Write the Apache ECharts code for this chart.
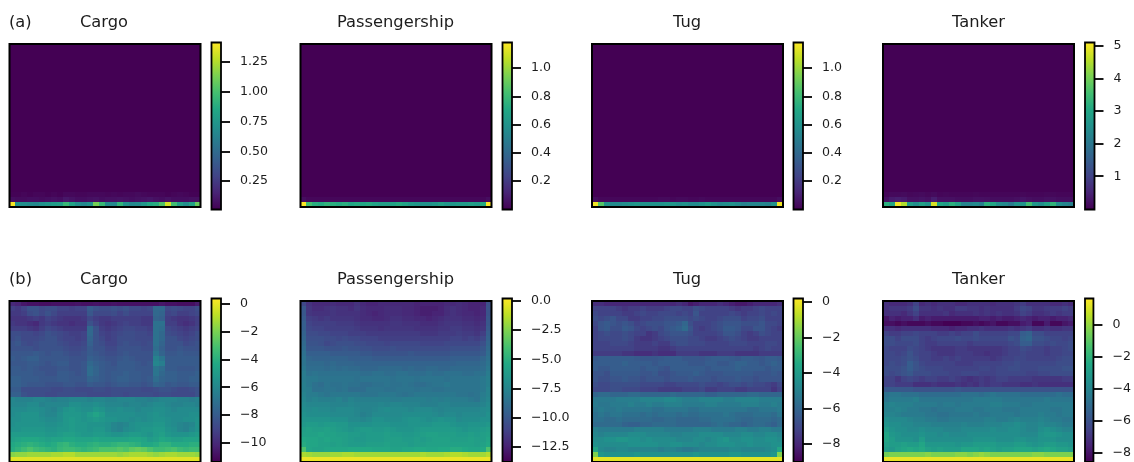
<!DOCTYPE html>
<html><head><meta charset="utf-8">
<style>html,body{margin:0;padding:0;background:#fff;overflow:hidden}#c{width:1134px;height:462px}</style>
<script src="https://cdn.jsdelivr.net/npm/echarts@6/dist/echarts.min.js"></script>
</head><body><div id="c"></div>
<script>
const shipTypes = ["Cargo","Passengership","Tug","Tanker"];
const rowTags = ["(a)","(b)"];

// (a) linear panels: nearly everything reads as the floor value; only the lowest rows carry signal
const floorA = [0.01,0.0,0.0,0.0];
const cargoA29 = [0.02,0.02,0.03,0.02,0.03,0.03,0.02,0.03,0.02,0.04,0.04,0.03,0.03,0.04,0.04,0.04,0.03,0.04,0.03,0.04,0.04,0.05,0.04,0.03,0.03,0.03,0.02,0.03,0.04,0.03,0.02,0.02];
const cargoA30 = [0.06,0.05,0.05,0.06,0.06,0.05,0.06,0.07,0.06,0.1,0.08,0.06,0.06,0.07,0.08,0.06,0.07,0.07,0.08,0.07,0.06,0.07,0.08,0.09,0.07,0.06,0.08,0.06,0.06,0.06,0.07,0.07];
const cargoA31 = [1.4,0.72,0.7,0.68,0.66,0.72,0.75,0.78,0.8,0.95,0.82,0.7,0.66,0.72,1.12,0.95,0.68,0.66,0.92,0.72,0.66,0.68,0.75,0.85,0.88,1.02,1.32,0.98,0.8,0.7,0.82,1.08];
const passA30 = [0.04,0.02,0.02,0.02,0.02,0.02,0.02,0.02,0.02,0.02,0.02,0.02,0.02,0.02,0.02,0.02,0.02,0.02,0.02,0.02,0.02,0.02,0.02,0.02,0.02,0.02,0.02,0.02,0.02,0.02,0.02,0.04];
const passA31 = [1.18,0.82,0.74,0.72,0.76,0.74,0.72,0.74,0.7,0.72,0.7,0.72,0.68,0.66,0.66,0.68,0.72,0.68,0.64,0.62,0.6,0.6,0.62,0.66,0.62,0.62,0.64,0.64,0.66,0.64,0.72,1.18];
const tugA30 = [0.04,0.02,0.02,0.02,0.02,0.02,0.02,0.02,0.02,0.02,0.02,0.03,0.03,0.02,0.03,0.03,0.02,0.02,0.03,0.02,0.02,0.02,0.02,0.02,0.02,0.02,0.02,0.02,0.02,0.02,0.02,0.04];
const tugA31 = [1.16,0.86,0.6,0.56,0.56,0.58,0.6,0.62,0.6,0.6,0.6,0.6,0.62,0.62,0.58,0.6,0.56,0.56,0.6,0.64,0.6,0.56,0.58,0.6,0.56,0.52,0.54,0.54,0.54,0.52,0.6,1.16];
const tankerA29 = [0.05,0.1,0.1,0.12,0.08,0.1,0.12,0.08,0.12,0.06,0.08,0.06,0.06,0.06,0.06,0.08,0.06,0.05,0.05,0.05,0.05,0.06,0.06,0.08,0.06,0.05,0.05,0.08,0.08,0.05,0.05,0.05];
const tankerA30 = [0.2,0.35,0.4,0.35,0.2,0.2,0.25,0.2,0.4,0.2,0.2,0.2,0.15,0.15,0.15,0.2,0.2,0.18,0.15,0.15,0.15,0.15,0.18,0.25,0.18,0.15,0.15,0.2,0.2,0.15,0.15,0.15];
const tankerA31 = [3.2,3.0,5.0,4.5,2.8,2.5,2.9,2.6,4.8,3.0,2.8,3.2,2.9,2.3,2.3,2.4,2.2,3.2,3.0,2.5,2.4,2.1,2.6,2.6,3.5,2.7,2.5,2.9,3.3,2.5,2.3,2.2];

// (b) log panels, values in tenths, one row per line, top row first
const cargoB = [
[-100,-102,-106,-108,-108,-109,-109,-108,-108,-108,-108,-107,-108,-108,-107,-108,-108,-107,-108,-108,-108,-108,-108,-108,-108,-106,-108,-108,-109,-109,-109,-105],
[-92,-94,-90,-84,-84,-88,-86,-86,-90,-90,-92,-90,-90,-80,-84,-86,-86,-84,-86,-84,-88,-88,-90,-88,-74,-74,-88,-86,-88,-90,-90,-86],
[-94,-94,-92,-86,-84,-88,-84,-88,-92,-92,-92,-92,-92,-82,-88,-88,-88,-86,-90,-86,-90,-90,-90,-90,-74,-76,-90,-88,-92,-92,-90,-88],
[-96,-96,-96,-94,-92,-94,-90,-92,-94,-96,-96,-96,-94,-88,-92,-94,-94,-92,-92,-92,-92,-92,-94,-94,-76,-78,-92,-94,-96,-96,-94,-92],
[-94,-96,-96,-98,-100,-94,-92,-94,-96,-96,-98,-96,-96,-84,-90,-94,-96,-94,-92,-90,-92,-92,-94,-94,-70,-70,-92,-92,-96,-98,-96,-92],
[-92,-92,-92,-94,-96,-92,-88,-90,-92,-94,-94,-94,-94,-74,-84,-92,-94,-92,-90,-88,-88,-90,-90,-92,-70,-72,-88,-90,-92,-94,-92,-90],
[-86,-86,-88,-88,-90,-88,-84,-86,-88,-90,-92,-92,-90,-74,-84,-90,-92,-90,-88,-86,-86,-88,-88,-90,-70,-74,-86,-88,-90,-92,-90,-86],
[-86,-84,-88,-88,-88,-86,-84,-84,-88,-90,-90,-92,-90,-76,-84,-88,-92,-90,-86,-86,-86,-88,-88,-88,-70,-74,-84,-84,-88,-90,-88,-86],
[-84,-82,-86,-88,-86,-84,-84,-84,-86,-88,-90,-90,-88,-78,-84,-86,-90,-90,-86,-84,-86,-86,-88,-86,-70,-76,-84,-84,-84,-88,-86,-84],
[-84,-84,-84,-84,-86,-84,-84,-84,-84,-86,-88,-88,-86,-80,-84,-84,-88,-88,-84,-84,-84,-84,-86,-86,-72,-78,-84,-84,-82,-84,-84,-84],
[-82,-82,-82,-82,-80,-82,-84,-82,-82,-84,-86,-86,-84,-80,-82,-84,-86,-86,-84,-82,-84,-84,-84,-84,-68,-76,-82,-82,-80,-82,-82,-82],
[-80,-82,-80,-78,-78,-82,-82,-82,-82,-82,-84,-84,-84,-78,-80,-82,-84,-84,-82,-80,-82,-84,-84,-84,-62,-68,-80,-80,-80,-80,-80,-80],
[-82,-82,-82,-80,-80,-82,-84,-82,-80,-80,-84,-84,-82,-74,-78,-80,-82,-84,-80,-80,-80,-82,-84,-82,-60,-64,-80,-80,-80,-80,-80,-80],
[-80,-80,-82,-80,-82,-84,-84,-84,-82,-82,-84,-84,-82,-72,-76,-80,-82,-82,-80,-80,-80,-82,-82,-82,-68,-72,-80,-80,-82,-82,-82,-80],
[-80,-80,-80,-80,-82,-82,-84,-84,-80,-80,-82,-84,-82,-72,-76,-80,-82,-80,-80,-78,-80,-80,-82,-82,-68,-74,-78,-78,-80,-80,-80,-78],
[-78,-78,-80,-80,-80,-82,-82,-82,-80,-80,-82,-82,-82,-76,-78,-80,-82,-80,-78,-78,-80,-80,-82,-80,-72,-76,-78,-78,-80,-80,-78,-78],
[-78,-78,-80,-82,-82,-82,-84,-84,-84,-82,-82,-84,-84,-80,-82,-82,-84,-82,-80,-80,-82,-82,-84,-82,-76,-78,-82,-80,-82,-82,-80,-80],
[-80,-80,-86,-86,-86,-86,-86,-88,-88,-86,-86,-88,-88,-88,-86,-86,-88,-86,-86,-86,-86,-86,-88,-88,-86,-84,-84,-86,-88,-88,-86,-84],
[-78,-78,-84,-86,-86,-86,-88,-88,-86,-86,-86,-86,-86,-88,-88,-88,-88,-86,-86,-88,-86,-86,-86,-86,-88,-86,-86,-88,-88,-88,-88,-84],
[-60,-62,-62,-62,-60,-60,-62,-64,-62,-62,-60,-60,-60,-62,-60,-60,-62,-62,-60,-60,-60,-62,-62,-64,-62,-60,-60,-60,-62,-62,-64,-62],
[-60,-60,-60,-58,-58,-62,-60,-60,-60,-60,-56,-56,-58,-58,-56,-58,-60,-60,-60,-62,-60,-60,-62,-60,-58,-58,-60,-62,-62,-60,-60,-62],
[-58,-58,-58,-56,-56,-58,-60,-62,-58,-54,-52,-54,-56,-56,-52,-54,-58,-58,-56,-58,-58,-60,-58,-58,-56,-56,-58,-60,-58,-58,-58,-58],
[-58,-56,-54,-54,-54,-58,-60,-60,-56,-52,-52,-52,-54,-50,-46,-50,-56,-56,-56,-56,-56,-58,-58,-56,-54,-56,-58,-58,-58,-58,-56,-56],
[-56,-56,-54,-54,-54,-56,-58,-58,-56,-52,-50,-52,-54,-52,-50,-52,-54,-54,-56,-56,-58,-56,-58,-56,-54,-54,-56,-58,-58,-56,-56,-54],
[-56,-54,-54,-54,-54,-54,-56,-56,-54,-52,-50,-52,-52,-54,-54,-54,-56,-60,-62,-60,-56,-54,-54,-54,-52,-52,-56,-58,-60,-62,-60,-54],
[-54,-54,-52,-52,-52,-52,-54,-54,-52,-52,-50,-52,-52,-54,-52,-52,-56,-60,-62,-58,-56,-54,-52,-52,-50,-50,-54,-56,-60,-62,-58,-54],
[-50,-50,-50,-50,-50,-50,-52,-52,-50,-48,-48,-50,-52,-52,-50,-50,-52,-54,-54,-52,-50,-50,-52,-54,-50,-48,-52,-54,-54,-54,-52,-50],
[-48,-46,-44,-44,-44,-46,-48,-46,-46,-44,-44,-46,-46,-46,-44,-46,-46,-46,-46,-46,-44,-44,-46,-50,-48,-44,-46,-48,-48,-46,-46,-46],
[-44,-42,-40,-38,-40,-42,-44,-42,-38,-36,-40,-42,-42,-40,-38,-40,-40,-38,-36,-36,-38,-40,-44,-44,-42,-38,-38,-42,-42,-42,-40,-40],
[-42,-38,-34,-30,-34,-36,-38,-40,-36,-34,-34,-36,-38,-36,-34,-30,-30,-30,-28,-30,-26,-24,-26,-30,-34,-34,-32,-30,-34,-36,-34,-34],
[-18,-16,-16,-14,-14,-14,-14,-12,-12,-10,-10,-14,-14,-14,-14,-14,-14,-14,-16,-14,-12,-12,-12,-14,-16,-14,-12,-12,-14,-14,-14,-16],
[-2,-2,-2,-2,-2,-2,-2,-2,-2,-2,-2,-2,-2,-2,-2,-2,-2,-2,-2,-2,-2,-2,-2,-2,-2,-2,-2,-2,-2,-2,-2,-2]
];
const passB = [
[-108,-118,-122,-122,-122,-120,-122,-122,-122,-118,-122,-124,-124,-122,-122,-122,-122,-122,-122,-124,-124,-124,-124,-124,-122,-122,-120,-122,-124,-124,-124,-104],
[-100,-116,-120,-120,-118,-116,-118,-118,-120,-116,-120,-122,-122,-122,-120,-120,-120,-122,-122,-124,-126,-126,-126,-124,-120,-118,-120,-122,-124,-124,-122,-102],
[-100,-116,-118,-118,-118,-116,-118,-118,-118,-118,-120,-122,-124,-122,-120,-120,-120,-122,-122,-124,-126,-126,-124,-124,-120,-118,-120,-122,-122,-124,-122,-102],
[-98,-112,-114,-116,-114,-116,-116,-116,-116,-118,-120,-120,-122,-122,-120,-118,-118,-120,-120,-122,-122,-124,-122,-120,-118,-118,-118,-120,-120,-122,-120,-100],
[-96,-110,-112,-112,-112,-112,-114,-114,-114,-116,-118,-118,-118,-118,-118,-116,-116,-118,-118,-118,-120,-120,-120,-118,-116,-116,-116,-118,-118,-120,-118,-100],
[-96,-108,-110,-110,-112,-112,-112,-112,-112,-114,-116,-116,-116,-118,-116,-116,-116,-116,-116,-118,-118,-118,-118,-116,-116,-114,-114,-116,-116,-118,-116,-98],
[-94,-106,-106,-108,-108,-110,-110,-110,-112,-112,-112,-114,-114,-114,-114,-114,-114,-114,-114,-114,-116,-116,-116,-114,-114,-114,-112,-114,-114,-116,-112,-96],
[-92,-104,-104,-104,-106,-106,-108,-106,-108,-108,-110,-110,-110,-112,-112,-112,-112,-112,-112,-112,-112,-112,-112,-112,-112,-110,-110,-112,-110,-112,-108,-94],
[-90,-102,-102,-104,-108,-106,-104,-104,-104,-106,-106,-108,-108,-108,-110,-108,-108,-108,-108,-108,-110,-110,-110,-110,-108,-108,-108,-108,-108,-108,-104,-92],
[-88,-100,-100,-100,-102,-102,-102,-100,-102,-102,-104,-104,-106,-106,-106,-104,-106,-106,-106,-106,-106,-106,-106,-106,-106,-104,-104,-104,-104,-104,-100,-90],
[-86,-96,-96,-96,-96,-98,-98,-98,-98,-98,-100,-100,-102,-102,-102,-102,-102,-102,-100,-102,-102,-102,-102,-102,-102,-100,-100,-100,-100,-100,-98,-88],
[-84,-92,-94,-94,-94,-94,-94,-94,-96,-96,-96,-96,-98,-98,-98,-98,-98,-98,-98,-98,-98,-98,-98,-98,-98,-96,-96,-96,-96,-96,-92,-86],
[-84,-90,-90,-90,-92,-90,-92,-92,-92,-94,-94,-94,-94,-94,-94,-94,-94,-94,-94,-94,-94,-94,-94,-94,-94,-94,-92,-92,-92,-92,-90,-84],
[-82,-88,-88,-88,-90,-88,-90,-88,-90,-90,-92,-92,-92,-90,-90,-90,-90,-92,-90,-92,-92,-90,-90,-92,-92,-90,-90,-90,-90,-90,-88,-82],
[-80,-86,-84,-86,-86,-86,-86,-86,-86,-86,-88,-88,-86,-86,-88,-88,-86,-86,-88,-88,-88,-86,-88,-88,-86,-86,-86,-88,-88,-86,-86,-80],
[-80,-82,-82,-84,-84,-84,-84,-84,-84,-86,-84,-84,-84,-84,-84,-86,-84,-84,-84,-86,-84,-84,-84,-84,-86,-84,-84,-84,-84,-84,-82,-78],
[-78,-82,-86,-88,-84,-86,-86,-84,-86,-86,-88,-88,-86,-86,-84,-86,-86,-84,-86,-88,-88,-86,-84,-84,-82,-84,-84,-84,-84,-84,-82,-78],
[-78,-80,-86,-86,-84,-84,-86,-84,-88,-88,-88,-84,-84,-84,-86,-86,-84,-84,-84,-86,-84,-84,-86,-86,-84,-84,-84,-84,-84,-84,-82,-76],
[-76,-80,-80,-82,-84,-82,-82,-82,-82,-82,-84,-84,-84,-82,-82,-82,-84,-86,-84,-82,-82,-82,-82,-82,-82,-82,-84,-84,-86,-84,-80,-76],
[-74,-78,-76,-78,-78,-78,-76,-80,-76,-78,-78,-78,-78,-78,-78,-80,-80,-78,-78,-78,-78,-80,-78,-80,-78,-80,-80,-80,-82,-84,-78,-74],
[-72,-74,-74,-74,-74,-76,-76,-76,-74,-76,-76,-76,-76,-74,-76,-74,-74,-76,-76,-76,-78,-78,-78,-76,-76,-78,-78,-78,-78,-78,-76,-72],
[-70,-72,-70,-72,-72,-74,-72,-72,-72,-74,-76,-76,-74,-72,-70,-72,-72,-72,-74,-72,-72,-72,-74,-76,-74,-74,-74,-74,-74,-74,-72,-70],
[-68,-70,-70,-70,-70,-72,-72,-72,-72,-74,-78,-76,-72,-72,-72,-72,-72,-70,-70,-70,-70,-70,-72,-74,-72,-72,-74,-72,-72,-72,-72,-68],
[-66,-66,-66,-66,-66,-68,-68,-68,-72,-72,-74,-72,-68,-68,-70,-70,-70,-68,-66,-66,-68,-70,-68,-66,-68,-68,-72,-70,-70,-70,-68,-68],
[-64,-62,-62,-64,-62,-62,-64,-64,-68,-68,-68,-68,-66,-66,-66,-68,-68,-68,-66,-66,-66,-66,-64,-64,-64,-66,-68,-68,-66,-66,-66,-64],
[-60,-58,-60,-60,-58,-60,-62,-64,-66,-64,-62,-62,-64,-64,-62,-64,-66,-66,-66,-64,-62,-62,-62,-62,-62,-62,-64,-66,-64,-64,-62,-60],
[-58,-58,-58,-56,-58,-58,-60,-60,-62,-62,-64,-62,-62,-62,-60,-62,-62,-64,-64,-62,-60,-58,-58,-60,-60,-60,-62,-62,-60,-62,-60,-58],
[-54,-56,-56,-58,-56,-58,-58,-60,-62,-64,-64,-62,-62,-62,-60,-60,-60,-62,-62,-60,-62,-60,-58,-58,-58,-60,-60,-60,-58,-60,-60,-56],
[-52,-56,-56,-58,-58,-60,-58,-60,-62,-62,-62,-60,-60,-60,-58,-60,-60,-60,-62,-60,-60,-58,-58,-58,-58,-58,-58,-58,-58,-60,-58,-54],
[-38,-56,-58,-58,-56,-56,-56,-56,-54,-54,-54,-54,-56,-56,-56,-58,-58,-56,-56,-54,-54,-56,-56,-54,-54,-52,-52,-54,-56,-56,-54,-38],
[-16,-18,-20,-20,-20,-18,-18,-16,-16,-18,-18,-18,-18,-18,-18,-18,-18,-18,-18,-18,-16,-18,-18,-18,-16,-14,-14,-16,-18,-18,-18,-14],
[-2,-2,-2,-2,-2,-2,-2,-2,-2,-2,-2,-2,-2,-2,-2,-2,-2,-2,-2,-2,-2,-2,-2,-2,-2,-2,-2,-2,-2,-2,-2,-2]
];
const tugB = [
[-78,-78,-80,-80,-80,-80,-80,-80,-80,-80,-80,-80,-80,-80,-78,-80,-84,-82,-80,-80,-80,-78,-80,-82,-84,-84,-82,-80,-80,-80,-80,-78],
[-72,-72,-72,-72,-74,-76,-74,-74,-72,-74,-74,-74,-72,-70,-70,-72,-72,-68,-70,-72,-72,-72,-72,-74,-76,-74,-74,-72,-70,-72,-72,-72],
[-70,-72,-72,-72,-72,-74,-74,-72,-70,-72,-72,-70,-70,-70,-72,-70,-72,-66,-72,-72,-72,-72,-72,-70,-72,-74,-72,-72,-70,-72,-70,-72],
[-68,-70,-68,-66,-70,-70,-74,-74,-72,-72,-70,-70,-68,-68,-68,-68,-70,-68,-70,-72,-72,-70,-68,-68,-68,-72,-70,-70,-68,-72,-72,-72],
[-70,-66,-64,-66,-68,-66,-68,-72,-70,-68,-68,-68,-66,-66,-64,-60,-68,-72,-72,-72,-70,-68,-66,-66,-66,-68,-68,-68,-66,-70,-70,-72],
[-72,-66,-64,-68,-68,-64,-66,-70,-72,-70,-68,-70,-66,-64,-62,-58,-66,-72,-74,-72,-70,-68,-64,-64,-66,-70,-70,-66,-66,-70,-72,-74],
[-72,-70,-68,-70,-70,-68,-70,-72,-72,-76,-74,-70,-68,-66,-66,-66,-68,-72,-72,-72,-72,-70,-66,-66,-68,-72,-74,-72,-68,-70,-72,-72],
[-72,-70,-70,-70,-70,-68,-70,-74,-76,-76,-74,-72,-70,-68,-68,-68,-70,-70,-72,-74,-74,-72,-70,-68,-70,-72,-74,-74,-72,-72,-72,-72],
[-72,-72,-72,-70,-70,-70,-72,-74,-74,-74,-72,-74,-74,-70,-68,-68,-70,-70,-70,-72,-72,-72,-72,-70,-70,-70,-72,-72,-72,-70,-70,-72],
[-72,-72,-72,-72,-72,-72,-72,-74,-74,-74,-74,-76,-76,-74,-72,-72,-72,-72,-72,-72,-72,-72,-72,-72,-72,-72,-72,-74,-72,-70,-72,-72],
[-74,-74,-74,-74,-74,-76,-76,-78,-78,-78,-76,-78,-78,-78,-74,-74,-74,-74,-76,-76,-76,-74,-74,-74,-76,-76,-76,-76,-74,-74,-74,-74],
[-64,-63,-63,-63,-63,-63,-63,-64,-65,-65,-65,-64,-63,-63,-63,-65,-65,-65,-66,-64,-63,-63,-63,-64,-65,-63,-63,-64,-65,-63,-63,-64],
[-63,-63,-63,-63,-63,-61,-63,-63,-63,-63,-65,-63,-63,-63,-63,-63,-65,-65,-65,-63,-63,-65,-65,-63,-61,-61,-63,-63,-65,-63,-61,-63],
[-63,-65,-65,-63,-63,-63,-63,-63,-65,-63,-63,-65,-67,-63,-63,-63,-63,-63,-63,-65,-63,-63,-63,-63,-61,-63,-63,-63,-63,-65,-63,-63],
[-66,-66,-68,-64,-64,-64,-64,-64,-66,-66,-64,-68,-68,-66,-64,-64,-64,-62,-64,-66,-66,-66,-64,-64,-64,-64,-64,-66,-66,-66,-64,-66],
[-66,-68,-68,-66,-66,-64,-66,-66,-68,-66,-66,-66,-68,-66,-66,-66,-64,-66,-66,-66,-68,-66,-66,-66,-64,-66,-66,-68,-66,-66,-66,-66],
[-68,-70,-70,-68,-68,-68,-68,-68,-70,-70,-70,-70,-72,-72,-70,-70,-70,-70,-68,-70,-70,-72,-70,-68,-68,-70,-68,-70,-70,-72,-74,-70],
[-70,-70,-70,-68,-68,-70,-70,-70,-72,-72,-72,-74,-74,-74,-74,-72,-72,-72,-70,-74,-74,-72,-72,-72,-74,-74,-72,-72,-72,-72,-76,-72],
[-60,-58,-58,-60,-60,-60,-58,-58,-60,-60,-60,-60,-60,-58,-60,-60,-60,-60,-60,-62,-62,-60,-60,-60,-60,-60,-58,-58,-60,-60,-60,-60],
[-53,-53,-53,-53,-51,-51,-51,-51,-49,-49,-49,-49,-47,-47,-49,-51,-51,-51,-49,-49,-49,-49,-51,-51,-49,-49,-49,-49,-51,-51,-51,-51],
[-52,-54,-54,-52,-52,-52,-50,-52,-52,-50,-52,-52,-50,-50,-50,-52,-52,-52,-52,-50,-50,-52,-52,-52,-52,-50,-50,-50,-52,-52,-50,-52],
[-54,-52,-54,-54,-52,-54,-54,-54,-54,-54,-56,-56,-54,-54,-54,-54,-56,-56,-54,-54,-54,-54,-54,-54,-54,-54,-56,-56,-54,-54,-54,-52],
[-56,-54,-56,-54,-54,-56,-56,-56,-58,-56,-58,-56,-56,-56,-58,-56,-58,-58,-56,-56,-56,-56,-54,-56,-58,-58,-58,-56,-56,-56,-58,-54],
[-56,-56,-58,-58,-56,-58,-58,-58,-58,-58,-60,-60,-58,-58,-60,-60,-60,-60,-58,-58,-56,-56,-56,-56,-58,-60,-60,-58,-58,-58,-60,-58],
[-58,-58,-58,-58,-58,-61,-62,-62,-60,-60,-58,-58,-58,-58,-60,-60,-60,-60,-60,-60,-58,-56,-58,-60,-60,-62,-60,-58,-58,-60,-62,-58],
[-50,-52,-52,-52,-52,-52,-52,-50,-50,-50,-50,-50,-52,-52,-52,-52,-52,-50,-50,-50,-52,-52,-52,-52,-50,-50,-52,-52,-50,-50,-52,-52],
[-48,-50,-48,-48,-48,-48,-46,-46,-46,-48,-48,-48,-48,-50,-50,-48,-48,-48,-46,-46,-46,-46,-48,-48,-48,-46,-46,-48,-48,-46,-46,-48],
[-46,-46,-44,-44,-42,-42,-44,-44,-46,-44,-46,-46,-46,-46,-48,-48,-48,-46,-46,-48,-46,-44,-42,-46,-46,-44,-44,-46,-46,-44,-44,-46],
[-44,-46,-46,-46,-46,-46,-44,-44,-44,-44,-44,-46,-46,-44,-44,-46,-46,-46,-48,-46,-46,-44,-44,-44,-46,-46,-44,-46,-46,-46,-44,-44],
[-36,-47,-49,-49,-47,-47,-49,-49,-49,-49,-49,-51,-49,-49,-51,-53,-53,-51,-49,-49,-49,-49,-49,-47,-47,-49,-49,-49,-49,-47,-45,-36],
[-16,-42,-44,-44,-44,-44,-44,-42,-44,-44,-44,-44,-44,-44,-44,-44,-44,-42,-44,-44,-44,-44,-44,-42,-42,-44,-44,-44,-44,-44,-42,-16],
[-2,-2,-2,-2,-2,-2,-2,-2,-2,-2,-2,-2,-2,-2,-2,-2,-2,-2,-2,-2,-2,-2,-2,-2,-2,-2,-2,-2,-2,-2,-2,-2]
];
const tankerB = [
[-72,-74,-74,-74,-72,-66,-74,-72,-74,-72,-72,-72,-74,-74,-72,-72,-72,-72,-74,-72,-72,-72,-70,-68,-72,-72,-72,-72,-74,-74,-72,-74],
[-72,-70,-70,-70,-68,-62,-70,-70,-72,-70,-72,-72,-68,-68,-70,-70,-72,-70,-72,-72,-72,-72,-68,-64,-66,-70,-70,-68,-68,-68,-66,-68],
[-72,-72,-72,-74,-70,-66,-72,-72,-72,-72,-70,-74,-72,-72,-72,-70,-72,-70,-72,-70,-72,-72,-70,-66,-68,-72,-72,-70,-68,-70,-68,-68],
[-80,-76,-78,-76,-76,-72,-78,-76,-78,-78,-78,-78,-78,-78,-78,-78,-76,-76,-78,-76,-78,-78,-76,-74,-76,-78,-76,-76,-78,-76,-76,-74],
[-82,-82,-84,-82,-84,-84,-84,-82,-84,-84,-86,-86,-86,-84,-84,-82,-84,-82,-80,-84,-84,-82,-82,-78,-76,-84,-84,-78,-84,-84,-80,-78],
[-72,-72,-74,-72,-72,-72,-72,-72,-74,-74,-74,-76,-74,-74,-72,-72,-70,-72,-72,-72,-72,-70,-72,-70,-68,-72,-72,-70,-72,-72,-70,-70],
[-66,-68,-68,-66,-66,-64,-66,-66,-66,-68,-68,-66,-68,-66,-66,-62,-66,-66,-66,-66,-66,-64,-64,-56,-54,-62,-62,-66,-66,-66,-66,-66],
[-62,-62,-66,-62,-62,-62,-66,-68,-66,-64,-64,-64,-62,-64,-64,-62,-64,-64,-64,-64,-64,-60,-62,-54,-52,-60,-60,-62,-64,-64,-66,-64],
[-62,-62,-64,-64,-64,-62,-66,-68,-68,-66,-66,-66,-66,-66,-68,-66,-66,-66,-66,-66,-66,-64,-62,-56,-56,-62,-62,-64,-62,-64,-64,-62],
[-64,-66,-66,-66,-62,-64,-66,-68,-70,-70,-70,-70,-68,-68,-70,-70,-70,-70,-70,-70,-68,-66,-66,-62,-64,-66,-66,-68,-66,-66,-64,-62],
[-64,-64,-66,-64,-60,-64,-66,-66,-68,-70,-70,-70,-68,-68,-68,-70,-70,-72,-70,-70,-68,-66,-66,-64,-66,-66,-66,-68,-66,-66,-64,-64],
[-64,-64,-64,-62,-60,-62,-66,-66,-68,-68,-66,-68,-66,-68,-68,-68,-68,-68,-70,-68,-66,-66,-64,-64,-66,-66,-66,-66,-66,-64,-62,-62],
[-64,-62,-64,-62,-56,-60,-64,-66,-66,-66,-66,-66,-68,-68,-68,-66,-66,-66,-66,-66,-64,-64,-62,-64,-64,-64,-64,-64,-64,-62,-62,-62],
[-62,-62,-62,-60,-56,-60,-62,-64,-64,-64,-66,-66,-66,-66,-66,-66,-64,-64,-66,-64,-64,-62,-62,-64,-64,-64,-62,-62,-62,-62,-60,-60],
[-62,-64,-62,-60,-58,-62,-62,-62,-64,-64,-64,-66,-66,-64,-64,-64,-66,-66,-66,-64,-64,-64,-64,-64,-66,-66,-64,-64,-62,-62,-62,-62],
[-66,-66,-70,-66,-64,-66,-68,-66,-66,-68,-68,-66,-68,-70,-72,-70,-68,-70,-68,-66,-66,-68,-68,-68,-68,-70,-70,-70,-70,-70,-68,-68],
[-66,-66,-68,-68,-68,-72,-72,-72,-70,-72,-72,-72,-70,-72,-70,-72,-68,-70,-68,-68,-70,-70,-70,-72,-72,-70,-72,-72,-72,-72,-72,-72],
[-58,-58,-58,-58,-58,-60,-60,-60,-60,-60,-60,-60,-58,-60,-60,-60,-60,-60,-60,-60,-60,-60,-60,-60,-60,-60,-60,-60,-60,-60,-60,-60],
[-48,-46,-46,-48,-48,-48,-50,-50,-50,-50,-50,-50,-50,-48,-48,-48,-50,-48,-46,-48,-48,-48,-48,-50,-50,-50,-50,-50,-50,-48,-50,-50],
[-46,-44,-44,-44,-44,-42,-46,-46,-46,-46,-46,-46,-46,-46,-46,-44,-44,-44,-44,-44,-46,-46,-46,-46,-46,-46,-46,-44,-46,-46,-46,-46],
[-42,-40,-42,-42,-42,-44,-44,-44,-44,-46,-44,-44,-46,-44,-44,-44,-44,-44,-42,-42,-44,-44,-44,-46,-46,-44,-44,-44,-44,-44,-44,-44],
[-42,-42,-40,-42,-44,-44,-46,-46,-48,-46,-46,-46,-44,-44,-44,-46,-46,-44,-44,-44,-46,-46,-46,-44,-44,-44,-44,-44,-46,-46,-44,-44],
[-40,-40,-42,-44,-44,-44,-44,-46,-46,-48,-48,-46,-46,-46,-46,-44,-46,-46,-44,-44,-44,-44,-46,-44,-44,-44,-42,-44,-44,-46,-44,-44],
[-36,-38,-38,-38,-40,-42,-42,-44,-44,-46,-46,-44,-44,-44,-44,-44,-44,-42,-42,-44,-44,-42,-40,-42,-42,-42,-40,-42,-44,-44,-46,-46],
[-34,-36,-36,-38,-38,-40,-40,-40,-42,-42,-42,-42,-42,-40,-42,-42,-42,-40,-40,-40,-38,-38,-36,-38,-40,-40,-38,-40,-40,-42,-44,-44],
[-30,-34,-36,-36,-38,-38,-36,-38,-38,-38,-40,-40,-40,-38,-38,-38,-38,-38,-36,-38,-38,-36,-36,-38,-40,-40,-36,-34,-36,-38,-40,-40],
[-26,-32,-34,-36,-36,-36,-34,-36,-36,-38,-36,-38,-38,-38,-36,-36,-36,-36,-36,-36,-36,-36,-36,-38,-38,-38,-34,-32,-32,-34,-36,-36],
[-26,-30,-34,-34,-34,-36,-30,-36,-36,-36,-36,-36,-36,-36,-36,-34,-34,-34,-34,-36,-36,-36,-34,-34,-36,-36,-34,-34,-34,-36,-36,-36],
[-28,-30,-30,-28,-30,-30,-26,-32,-32,-32,-32,-32,-34,-32,-32,-30,-30,-30,-30,-32,-32,-32,-30,-30,-32,-34,-32,-30,-30,-32,-32,-34],
[-30,-32,-28,-26,-24,-26,-24,-28,-30,-28,-30,-30,-30,-26,-26,-26,-28,-26,-28,-30,-28,-28,-26,-26,-26,-28,-26,-24,-26,-28,-28,-30],
[-6,-4,-4,-4,-4,-4,-4,-2,-4,-4,-4,-4,-2,-2,-4,-2,0,-2,-4,-4,-4,-4,-4,-4,-4,-2,-2,-4,-4,-4,-4,-4],
[13,13,13,13,13,13,13,13,13,13,13,13,13,13,13,13,13,13,13,13,13,13,13,13,13,13,13,13,13,13,13,13]
];

// colour-bar ranges and ticks
const cbMin = [0.01,0.0,0.0,-0.02, -11.35,-13.8,-9.0,-8.6];
const cbMax = [1.415,1.18,1.18,5.1, 0.35,0.2,0.19,1.63];
const cbTicks = [
 [0.25,0.5,0.75,1,1.25],[0.2,0.4,0.6,0.8,1],[0.2,0.4,0.6,0.8,1],[1,2,3,4,5],
 [-10,-8,-6,-4,-2,0],[-12.5,-10,-7.5,-5,-2.5,0],[-8,-6,-4,-2,0],[-8,-6,-4,-2,0]];
const cbTickLabels = [
 ["0.25","0.50","0.75","1.00","1.25"],["0.2","0.4","0.6","0.8","1.0"],["0.2","0.4","0.6","0.8","1.0"],["1","2","3","4","5"],
 ["−10","−8","−6","−4","−2","0"],["−12.5","−10.0","−7.5","−5.0","−2.5","0.0"],["−8","−6","−4","−2","0"],["−8","−6","−4","−2","0"]];

const viridis = ["#440154","#482475","#414487","#355f8d","#2a788e","#21918c","#22a884","#44bf70","#7ad151","#bddf26","#fde725"];

// layout
const panelLeft = [9.5,300.5,592,883];
const panelW = 191, panelH = 163;
const rowTop = [44,301];
const barLeft = [211.5,502.5,793.5,1085];
const barW = 9.5, barH = 167;
const barTop = [42.5,298.5];

function rowsA(i){
  const empty = () => new Array(32).fill(floorA[i]);
  const rows = [];
  for(let r=0;r<32;r++) rows.push(empty());
  if(i===0){rows[29]=cargoA29;rows[30]=cargoA30;rows[31]=cargoA31;}
  if(i===1){rows[30]=passA30;rows[31]=passA31;}
  if(i===2){rows[30]=tugA30;rows[31]=tugA31;}
  if(i===3){rows[29]=tankerA29;rows[30]=tankerA30;rows[31]=tankerA31;}
  return rows;
}
const panelsB = [cargoB,passB,tugB,tankerB].map(m=>m.map(r=>r.map(v=>v/10)));
const matrices = [0,1,2,3].map(rowsA).concat(panelsB);
const idx32 = Array.from({length:32},(_,i)=>i);

const option = {animation:false,backgroundColor:"#fff",title:[],grid:[],xAxis:[],yAxis:[],visualMap:[],series:[]};
const textColor = "#1c1c1c";
const font = "DejaVu Sans";
const titleSize = 16.3;
const titleTop = [15,271.5];
rowTags.forEach((t,row)=>{
  option.title.push({text:t,left:9,top:titleTop[row],padding:0,textStyle:{fontFamily:font,fontSize:titleSize,fontWeight:"normal",color:textColor}});
});
const titleCentres = [104,395.5,687,978.5];
for(let p=0;p<8;p++){
  const col=p%4,row=p<4?0:1;
  option.title.push({text:shipTypes[col],left:titleCentres[col],top:titleTop[row],padding:0,textAlign:"center",textStyle:{fontFamily:font,fontSize:titleSize,fontWeight:"normal",color:textColor}});
  // cell matrix, each cell snapped to whole pixels so neighbours share an edge
  option.grid.push({left:panelLeft[col],top:rowTop[row],width:panelW,height:panelH,show:true,z:5,borderColor:"#000",borderWidth:2,backgroundColor:"transparent"});
  const g=option.grid.length-1;
  option.xAxis.push({type:"category",gridIndex:g,data:idx32,show:false});
  option.yAxis.push({type:"category",gridIndex:g,data:idx32,inverse:true,show:false});
  const data=[];
  matrices[p].forEach((r,y)=>r.forEach((v,x)=>data.push([x,y,v])));
  const si=option.series.length;
  option.series.push({type:"custom",xAxisIndex:g,yAxisIndex:g,data:data,silent:true,clip:true,progressive:0,encode:{x:0,y:1},
    renderItem:(params,api)=>{
      const c=api.coord([api.value(0),api.value(1)]),s=api.size([1,1]);
      const x0=Math.round(c[0]-s[0]/2),x1=Math.round(c[0]+s[0]/2),y0=Math.round(c[1]-s[1]/2),y1=Math.round(c[1]+s[1]/2);
      return {type:"rect",shape:{x:x0,y:y0,width:x1-x0,height:y1-y0},style:{fill:api.visual("color")}};
    }});
  option.visualMap.push({show:false,type:"continuous",seriesIndex:si,dimension:2,min:cbMin[p],max:cbMax[p],inRange:{color:viridis}});
  // colour bar
  option.grid.push({left:barLeft[col],top:barTop[row],width:barW,height:barH,show:true,z:5,borderColor:"#000",borderWidth:1.8,backgroundColor:"transparent"});
  const b=option.grid.length-1;
  const ticks=cbTicks[p],labels=cbTickLabels[p];
  option.xAxis.push({type:"value",gridIndex:b,min:0,max:1,show:false});
  option.yAxis.push({type:"value",gridIndex:b,position:"right",min:cbMin[p],max:cbMax[p],z:6,
    splitLine:{show:false},axisLine:{show:false,onZero:false},
    axisTick:{show:true,length:9,inside:false,lineStyle:{color:"#000",width:1.8},customValues:ticks},
    axisLabel:{show:true,margin:19,hideOverlap:false,showMinLabel:true,showMaxLabel:true,fontFamily:font,fontSize:12.6,color:textColor,customValues:ticks,
      formatter:v=>{const k=ticks.findIndex(t=>Math.abs(t-v)<1e-6);return k<0?"":labels[k];}}});
  option.series.push({type:"custom",xAxisIndex:b,yAxisIndex:b,silent:true,clip:false,data:[[0,cbMin[p],1,cbMax[p]]],
    renderItem:(params,api)=>{
      const a=api.coord([api.value(0),api.value(3)]),c=api.coord([api.value(2),api.value(1)]);
      return {type:"rect",shape:{x:a[0],y:a[1],width:c[0]-a[0],height:c[1]-a[1]},
        style:{fill:new echarts.graphic.LinearGradient(0,1,0,0,viridis.map((col,i)=>({offset:i/(viridis.length-1),color:col})))}};
    }});
}
const chart=echarts.init(document.getElementById("c"),null,{renderer:"canvas",width:1134,height:462});
chart.setOption(option);
</script></body></html>
